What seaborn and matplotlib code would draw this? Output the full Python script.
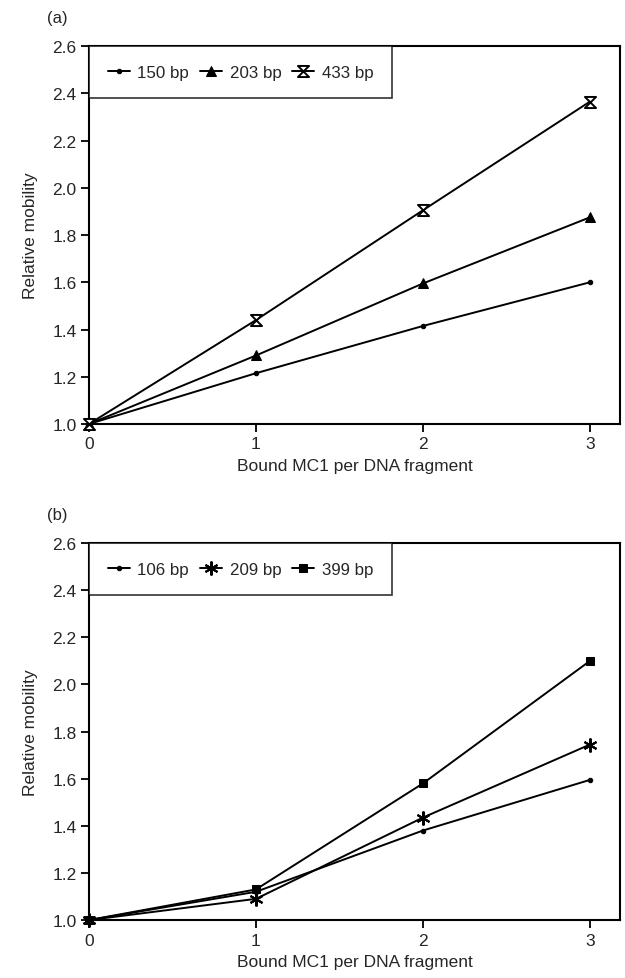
import numpy as np
import pandas as pd
import seaborn as sns
import matplotlib.pyplot as plt
from matplotlib.path import Path

bound = [0, 1, 2, 3]

# panel (a)
a_labels = ['150 bp', '203 bp', '433 bp']
a_150 = [1.0, 1.215, 1.415, 1.60]
a_203 = [1.0, 1.29, 1.595, 1.875]
a_433 = [1.0, 1.44, 1.905, 2.365]

# panel (b)
b_labels = ['106 bp', '209 bp', '399 bp']
b_106 = [1.0, 1.12, 1.38, 1.595]
b_209 = [1.0, 1.09, 1.435, 1.745]
b_399 = [1.0, 1.13, 1.58, 2.10]

yticks = [1.0, 1.2, 1.4, 1.6, 1.8, 2.0, 2.2, 2.4, 2.6]

sns.set_theme(style='ticks')
plt.rcParams['font.family'] = ['Liberation Sans', 'DejaVu Sans']

hourglass = Path([(-1, 1), (1, 1), (-1, -1), (1, -1), (-1, 1)],
                 [Path.MOVETO, Path.LINETO, Path.LINETO, Path.LINETO, Path.CLOSEPOLY])

a_style = [dict(marker='o', ms=3.2, mfc='black'),
           dict(marker='^', ms=7, mfc='black'),
           dict(marker=hourglass, ms=8, mfc='white', mew=1.4)]
b_style = [dict(marker='o', ms=3.2, mfc='black'),
           dict(marker=(6, 2, 0), ms=10, mew=1.5),
           dict(marker='s', ms=6, mfc='black')]

fig = plt.figure(figsize=(6.25, 9.79), dpi=100)
ax_a = fig.add_axes([0.1424, 0.5659, 0.8496, 0.386])
ax_b = fig.add_axes([0.1424, 0.0592, 0.8496, 0.385])


def draw_panel(ax, labels, series, styles, tag):
    for lab, vals, st in zip(labels, series, styles):
        df = pd.DataFrame({'x': bound, 'y': vals})
        sns.lineplot(data=df, x='x', y='y', ax=ax, color='black', lw=1.4,
                     mec='black', label=lab, clip_on=False, zorder=3, **st)
    ax.set_xlim(0, 3.18)
    ax.set_ylim(1.0, 2.6)
    ax.set_xticks(bound)
    ax.set_yticks(yticks)
    ax.set_yticklabels([f'{v:.1f}' for v in yticks])
    ax.tick_params(labelsize=12.5, length=6, width=1.3, color='black', pad=3)
    for s in ax.spines.values():
        s.set_visible(True)
        s.set_color('black')
        s.set_linewidth(1.5)
    ax.set_xlabel('Bound MC1 per DNA fragment', fontsize=12.5, labelpad=5)
    ax.set_ylabel('Relative mobility', fontsize=12.5, labelpad=10)
    leg = ax.legend(loc='upper left', ncol=3, frameon=True, fancybox=False,
                    borderaxespad=0, fontsize=12.2, handlelength=1.3,
                    handletextpad=0.45, columnspacing=0.65, borderpad=1.1)
    leg.get_frame().set_edgecolor('black')
    leg.get_frame().set_linewidth(1.2)
    ax.text(-0.06, 1.055, tag, transform=ax.transAxes, fontsize=12,
            ha='center', va='bottom')


draw_panel(ax_a, a_labels, [a_150, a_203, a_433], a_style, '(a)')
draw_panel(ax_b, b_labels, [b_106, b_209, b_399], b_style, '(b)')

fig.savefig('out.png', dpi=100)
